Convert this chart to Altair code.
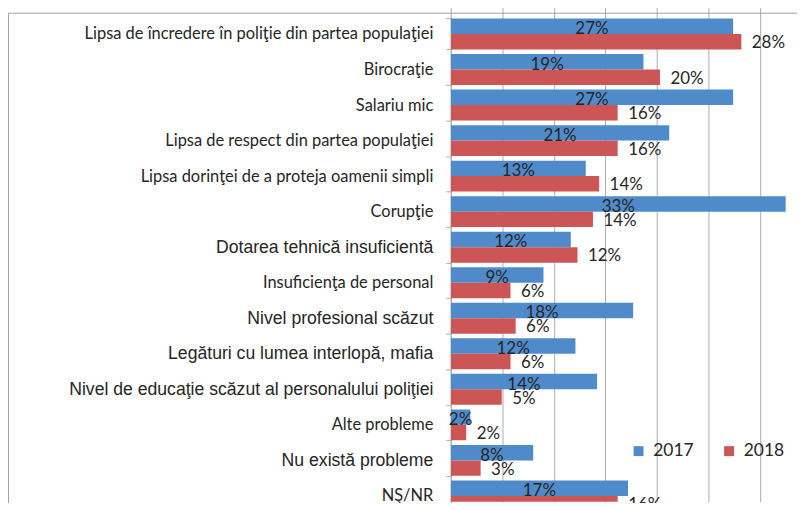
import json
import altair as alt
import pandas as pd

categories = [
    "Lipsa de încredere în poliţie din partea populaţiei",
    "Birocraţie",
    "Salariu mic",
    "Lipsa de respect din partea populaţiei",
    "Lipsa dorinţei de a proteja oamenii simpli\u00a0",
    "Corupţie",
    "Dotarea tehnică insuficientă",
    "Insuficienţa de personal",
    "Nivel profesional scăzut",
    "Legături cu lumea interlopă, mafia",
    "Nivel de educaţie scăzut al personalului poliţiei",
    "Alte probleme",
    "Nu există probleme",
    "NŞ/NR",
]
arial_categories = [
    "Dotarea tehnică insuficientă",
    "Nivel profesional scăzut",
    "Legături cu lumea interlopă, mafia",
    "Nivel de educaţie scăzut al personalului poliţiei",
    "Nu există probleme",
]
years = ["2017", "2018"]
values_2017 = [27.4, 18.7, 27.4, 21.2, 13.1, 32.5, 11.65, 9.0, 17.7, 12.1, 14.2, 1.9, 8.0, 17.2]
values_2018 = [28.2, 20.3, 16.2, 16.2, 14.4, 13.8, 12.3, 5.8, 6.3, 5.8, 4.95, 1.5, 2.9, 16.2]
labels_2017 = ["27%", "19%", "27%", "21%", "13%", "33%", "12%", "9%", "18%", "12%", "14%", "2%", "8%", "17%"]
labels_2018 = ["28%", "20%", "16%", "16%", "14%", "14%", "12%", "6%", "6%", "6%", "5%", "2%", "3%", "16%"]
grid_values = [0, 5, 10, 15, 20, 25, 30]

rows = []
for c, v, l in zip(categories, values_2017, labels_2017):
    rows.append({"cat": c, "year": "2017", "value": v, "label": l})
for c, v, l in zip(categories, values_2018, labels_2018):
    rows.append({"cat": c, "year": "2018", "value": v, "label": l})
df = pd.DataFrame(rows)

W, H = 348, 488
PAD_LEFT = 445
BLUE, RED = "#4F8BCB", "#CC5656"
GRID = "#ABABAB"

test = "indexof(" + json.dumps(arial_categories, ensure_ascii=False) + ", datum.value) >= 0"

y_enc = alt.Y(
    "cat:N",
    sort=categories,
    title=None,
    scale=alt.Scale(range=[0, 500], paddingInner=0.13, paddingOuter=0.065),
    axis=alt.Axis(
        tickBand="extent",
        tickSize=5,
        tickColor=GRID,
        domainColor=GRID,
        labelPadding=13,
        labelLimit=500,
        labelColor="#262626",
        labelFont={"condition": {"test": test, "value": "Liberation Sans"}, "value": "Lato"},
        labelFontSize={"condition": {"test": test, "value": 17.7}, "value": 16.5},
        grid=False,
    ),
)
x_enc = alt.X(
    "value:Q",
    title=None,
    scale=alt.Scale(domain=[0, 33.6], nice=False, zero=True),
    axis=alt.Axis(values=grid_values, labels=False, ticks=False, domain=False,
                  grid=True, gridColor=GRID, gridWidth=1),
)
yoff = alt.YOffset("year:N", sort=years)

bars = alt.Chart(df).mark_bar(clip=True).encode(
    y=y_enc,
    x=x_enc,
    yOffset=yoff,
    color=alt.Color(
        "year:N",
        scale=alt.Scale(domain=years, range=[BLUE, RED]),
        legend=alt.Legend(
            orient="none", legendX=180, legendY=428, direction="horizontal",
            columns=2, title=None, symbolType="square", symbolSize=100,
            symbolStrokeWidth=0, symbolOpacity=1, labelFont="Lato", labelFontSize=17.5,
            labelColor="#262626", labelOffset=6, columnPadding=26, padding=0,
        ),
    ),
)

df17 = df[df.year == "2017"].copy()
df17["mid"] = df17["value"] / 2
lab17 = alt.Chart(df17).mark_text(
    font="Lato", fontSize=17, color="#262626", align="center", baseline="middle", dy=3
).encode(
    y=alt.Y("cat:N", sort=categories),
    x=alt.X("mid:Q"),
    yOffset=yoff,
    text="label:N",
)
df18 = df[df.year == "2018"]
lab18 = alt.Chart(df18).mark_text(
    font="Lato", fontSize=17, color="#262626", align="left", baseline="middle", dx=10.5, dy=1.5
).encode(
    y=alt.Y("cat:N", sort=categories),
    x=alt.X("value:Q"),
    yOffset=yoff,
    text="label:N",
)

one = pd.DataFrame({"a": [0]})
frame_top = alt.Chart(one).mark_rule(color="#A0A0A0", strokeWidth=1).encode(
    x=alt.value(-(PAD_LEFT - 0.5)), x2=alt.value(W + 2), y=alt.value(-3)
)
frame_left = alt.Chart(one).mark_rule(color="#A0A0A0", strokeWidth=1).encode(
    x=alt.value(-(PAD_LEFT - 0.5)), y=alt.value(-3), y2=alt.value(H + 10)
)

chart = alt.layer(bars, lab17, lab18, frame_top, frame_left).properties(
    width=W,
    height=H,
    autosize=alt.AutoSizeParams(type="none"),
    padding={"left": PAD_LEFT, "top": 7, "right": 0, "bottom": 0},
).configure_view(stroke=None)

chart.save("out.html", embed_options={"renderer": "svg", "actions": False})
